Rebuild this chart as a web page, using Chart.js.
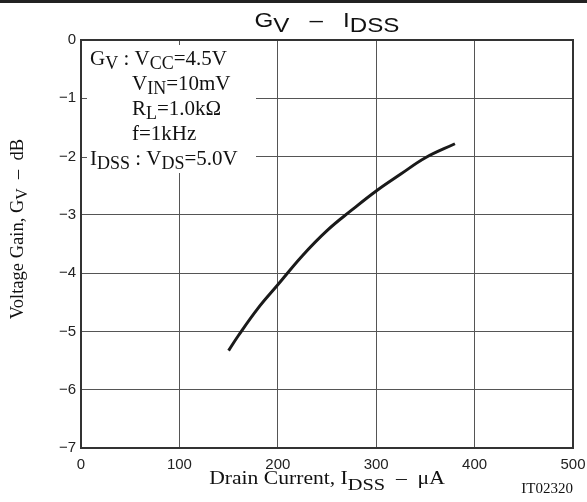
<!DOCTYPE html>
<html>
<head>
<meta charset="utf-8">
<script src="https://cdn.jsdelivr.net/npm/chart.js@4/dist/chart.umd.min.js"></script>
<style>
  html, body { margin: 0; padding: 0; background: #fff; }
  #wrap { width: 587px; height: 502px; }
</style>
</head>
<body>
<div id="wrap"><canvas id="gvChart"></canvas></div>
<script>
  // Drain current I_DSS (uA) and voltage gain G_V (dB)
  const idss = [150, 160, 180, 200, 225, 250, 275, 300, 325, 350, 380]
  const gain = [-5.33, -5.07, -4.6, -4.2, -3.7, -3.27, -2.92, -2.59, -2.3, -2.02, -1.78]
  const xTicks = [0, 100, 200, 300, 400, 500]
  const yTicks = [0, -1, -2, -3, -4, -5, -6, -7]

  const SANS = '"Liberation Sans", Arial, sans-serif'
  const SERIF = '"Liberation Serif", "Times New Roman", serif'

  // draw a line of text made of runs, some of them subscripts
  function drawRuns(ctx, runs, x, y, o) {
    const subSize = Math.round(o.size * (o.subScale || 0.85))
    const sx = o.sx || 1
    const fontOf = r => (r.sub ? subSize : o.size) + 'px ' + o.family
    let total = 0
    runs.forEach(r => { ctx.font = fontOf(r); total += ctx.measureText(r.t).width })
    total *= sx
    const start = o.align === 'center' ? x - total / 2 : o.align === 'right' ? x - total : x
    ctx.save()
    ctx.translate(start, y)
    ctx.scale(sx, 1)
    ctx.textAlign = 'left'
    ctx.textBaseline = 'alphabetic'
    let cx = 0
    runs.forEach(r => {
      ctx.font = fontOf(r)
      ctx.fillText(r.t, cx, r.sub ? (o.drop || 4) : 0)
      cx += ctx.measureText(r.t).width
    })
    ctx.restore()
  }

  const decor = {
    id: 'decor',
    beforeDraw(chart) {
      const ctx = chart.ctx
      ctx.save()
      ctx.fillStyle = '#222'
      ctx.fillRect(0, 0, chart.width, 3)
      ctx.restore()
    },
    afterDraw(chart) {
      const ctx = chart.ctx
      const a = chart.chartArea
      const xs = chart.scales.x
      const ys = chart.scales.y
      ctx.save()

      // white box behind the conditions text
      const boxR = 256, boxB = 173
      ctx.fillStyle = '#fff'
      ctx.fillRect(a.left + 1, a.top + 1, boxR - a.left - 1, boxB - a.top - 1)

      // small inward ticks where the box hides the grid
      ctx.strokeStyle = '#555'
      ctx.lineWidth = 1
      ctx.beginPath()
      xTicks.forEach(v => {
        const px = Math.round(xs.getPixelForValue(v)) + 0.5
        if (px > a.left + 2 && px < boxR) { ctx.moveTo(px, a.top); ctx.lineTo(px, a.top + 5) }
      })
      yTicks.forEach(v => {
        const py = Math.round(ys.getPixelForValue(v)) + 0.5
        if (py > a.top + 2 && py < boxB) { ctx.moveTo(a.left, py); ctx.lineTo(a.left + 6, py) }
      })
      ctx.stroke()

      // frame
      ctx.strokeStyle = '#333'
      ctx.lineWidth = 2
      ctx.strokeRect(a.left, a.top, a.right - a.left, a.bottom - a.top)

      ctx.fillStyle = '#111'
      // title
      drawRuns(ctx, [{ t: 'G' }, { t: 'V', sub: true }, { t: '   –   I' }, { t: 'DSS', sub: true }],
        (a.left + a.right) / 2, 27, { size: 21, family: SANS, align: 'center', subScale: 1, drop: 5, sx: 1.15 })

      // conditions
      const cond = { size: 21, family: SERIF, subScale: 0.85, drop: 4 }
      drawRuns(ctx, [{ t: 'G' }, { t: 'V', sub: true }, { t: ' : V' }, { t: 'CC', sub: true }, { t: '=4.5V' }], 90, 65, cond)
      drawRuns(ctx, [{ t: 'V' }, { t: 'IN', sub: true }, { t: '=10mV' }], 132, 90, cond)
      drawRuns(ctx, [{ t: 'R' }, { t: 'L', sub: true }, { t: '=1.0kΩ' }], 132, 115, cond)
      drawRuns(ctx, [{ t: 'f=1kHz' }], 132, 140, cond)
      drawRuns(ctx, [{ t: 'I' }, { t: 'DSS', sub: true }, { t: ' : V' }, { t: 'DS', sub: true }, { t: '=5.0V' }], 90, 165, cond)

      // axis titles
      drawRuns(ctx, [{ t: 'Drain Current, I' }, { t: 'DSS', sub: true }, { t: '  –  μA' }],
        (a.left + a.right) / 2, 484, { size: 18, family: SERIF, align: 'center', subScale: 0.95, drop: 6, sx: 1.2 })
      ctx.save()
      ctx.translate(23, 229)
      ctx.rotate(-Math.PI / 2)
      drawRuns(ctx, [{ t: 'Voltage Gain, G' }, { t: 'V', sub: true }, { t: '  –  dB' }], 0, 0,
        { size: 18.5, family: SERIF, align: 'center', subScale: 0.85, drop: 4 })
      ctx.restore()

      // figure code
      ctx.font = '15px ' + SERIF
      ctx.textAlign = 'right'
      ctx.fillText('IT02320', a.right, 493)
      ctx.restore()
    }
  }

  const noPad = s => { s.paddingLeft = 0; s.paddingRight = 0; s.paddingTop = 0; s.paddingBottom = 0 }

  const ctx = document.getElementById('gvChart')
  // eslint-disable-next-line no-unused-vars
  const gvChart = new Chart(ctx, {
    type: 'line',
    data: {
      datasets: [{
        data: idss.map((v, i) => ({ x: v, y: gain[i] })),
        borderColor: '#1a1a1a',
        borderWidth: 3,
        pointRadius: 0,
        tension: 0.4,
        fill: false
      }]
    },
    options: {
      responsive: true,
      maintainAspectRatio: false,
      animation: false,
      layout: { padding: { top: 40, right: 14, left: 0, bottom: 0 } },
      plugins: {
        legend: { display: false },
        title: { display: false },
        tooltip: { enabled: false }
      },
      scales: {
        x: {
          type: 'linear',
          min: 0,
          max: 500,
          afterBuildTicks: s => { s.ticks = xTicks.map(v => ({ value: v })) },
          afterFit: s => { s.height = 54; noPad(s) },
          grid: { color: '#555', lineWidth: 1, drawTicks: false },
          border: { display: false },
          ticks: {
            padding: 8,
            color: '#222',
            font: { family: SANS, size: 15 },
            maxRotation: 0
          }
        },
        y: {
          type: 'linear',
          min: -7,
          max: 0,
          afterBuildTicks: s => { s.ticks = yTicks.map(v => ({ value: v })) },
          afterFit: s => { s.width = 81; noPad(s) },
          grid: { color: '#555', lineWidth: 1, drawTicks: false },
          border: { display: false },
          ticks: {
            padding: 5,
            color: '#222',
            font: { family: SANS, size: 15 },
            callback: v => (v === 0 ? '0' : '−' + Math.abs(v))
          }
        }
      }
    },
    plugins: [decor]
  })
</script>
</body>
</html>
